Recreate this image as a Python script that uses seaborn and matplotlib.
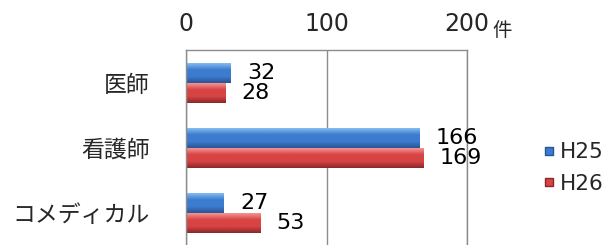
import numpy as np
import pandas as pd
import matplotlib
matplotlib.use('Agg')
import matplotlib.pyplot as plt
from matplotlib.lines import Line2D
import seaborn as sns

categories = ['医師', '看護師', 'コメディカル']
years = ['H25', 'H26']
h25_values = [32, 166, 27]
h26_values = [28, 169, 53]
x_ticks = [0, 100, 200]

df = pd.DataFrame({
    'category': categories * 2,
    'year': [years[0]] * 3 + [years[1]] * 3,
    'value': h25_values + h26_values,
})

sns.set_style('white')
plt.rcParams['font.family'] = ['Noto Sans CJK JP', 'DejaVu Sans']

base = {'H25': '#3c7ccf', 'H26': '#d84343'}
light = {'H25': '#86bbf2', 'H26': '#f59494'}
dark = {'H25': '#285594', 'H26': '#8a2828'}

fig = plt.figure(figsize=(6.12, 2.45), dpi=100)
ax = fig.add_axes([186 / 612, 0.0, (467 - 186) / 612, 1 - 50 / 245])

sns.barplot(data=df, x='value', y='category', hue='year', orient='h',
            palette=base, width=0.61, ax=ax, legend=False, saturation=1,
            edgecolor='none')

# bevel-like shading on each bar
for cont, yr in zip(ax.containers, years):
    cmap = matplotlib.colors.LinearSegmentedColormap.from_list(
        yr, [light[yr], base[yr], base[yr], dark[yr]])
    grad = np.linspace(0, 1, 64).reshape(-1, 1)
    for p in cont:
        x0, y0 = p.get_x(), p.get_y()
        w, h = p.get_width(), p.get_height()
        im = ax.imshow(grad, extent=[x0, x0 + w, y0 + h, y0], cmap=cmap,
                       aspect='auto', zorder=2, origin='upper')
        im.set_clip_path(p)
    ax.bar_label(cont, padding=11.5, fontsize=16, color='black',
                 family=['DejaVu Sans'])

ax.set_xlim(0, 200)
ax.set_ylim(2.49, -0.51)
ax.set_xticks(x_ticks)
ax.xaxis.tick_top()
ax.tick_params(axis='x', length=0, pad=10, labelsize=17)
ax.tick_params(axis='y', length=0, pad=26, labelsize=16.5)
for lab in ax.get_xticklabels():
    lab.set_family(['DejaVu Sans'])
ax.set_xlabel('')
ax.set_ylabel('')
ax.grid(axis='x', color='#8c8c8c', linewidth=1)
ax.set_axisbelow(True)
for side in ['top', 'right', 'left']:
    ax.spines[side].set_color('#8c8c8c')
    ax.spines[side].set_linewidth(1)
ax.spines['bottom'].set_visible(False)

fig.text(502 / 612, 1 - 30 / 245, '件', fontsize=14, ha='center', va='center')

handles = [Line2D([], [], marker='s', linestyle='none', markersize=6,
                  markerfacecolor=base[y], markeredgecolor=dark[y]) for y in years]
leg = fig.legend(handles, years, loc='center left',
                 bbox_to_anchor=(523 / 612, 1 - 168 / 245), frameon=False,
                 handlelength=0.6, handletextpad=0.2, labelspacing=0.55,
                 prop={'family': ['DejaVu Sans'], 'size': 15.5})

fig.savefig('out.png', dpi=100)
